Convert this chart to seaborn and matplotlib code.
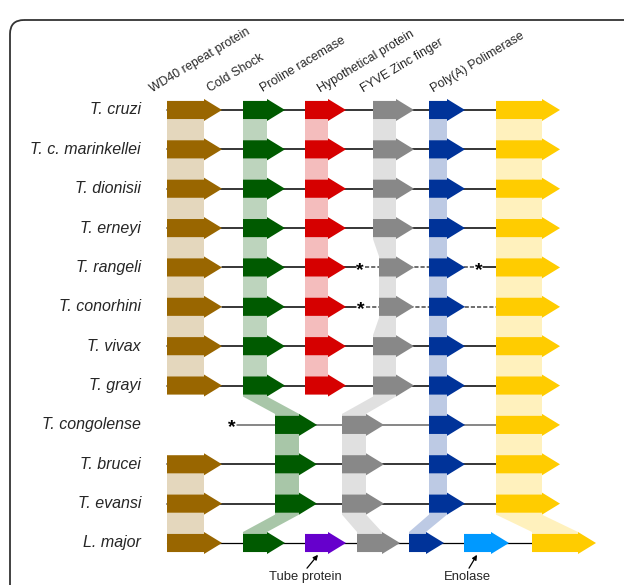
import matplotlib.pyplot as plt
from matplotlib.patches import Polygon, FancyBboxPatch
import seaborn as sns

sns.set_style("white")
plt.rcParams["font.family"] = ["Liberation Sans", "DejaVu Sans"]

OUTPUT = "out.png"

SPECIES = ["T. cruzi", "T. c. marinkellei", "T. dionisii", "T. erneyi", "T. rangeli",
           "T. conorhini", "T. vivax", "T. grayi", "T. congolense", "T. brucei",
           "T. evansi", "L. major"]
GENES = ["WD40 repeat protein", "Cold Shock", "Proline racemase",
         "Hypothetical protein", "FYVE Zinc finger", "Poly(A) Polimerase"]
COLORS = ["#996600", "#005A00", "#D60000", "#888888", "#003399", "#FFCC00"]

# gene start / end along the locus for every species (None = gene absent)
WD40_START = [167, 167, 167, 167, 167, 167, 167, 167, None, 167, 167, 167]
WD40_END = [222, 222, 222, 222, 222, 222, 222, 222, None, 222, 222, 222]
COLD_START = [243, 243, 243, 243, 243, 243, 243, 243, 275, 275, 275, 243]
COLD_END = [285, 285, 285, 285, 285, 285, 285, 285, 317, 317, 317, 285]
PRO_START = [305, 305, 305, 305, 305, 305, 305, 305, None, None, None, None]
PRO_END = [346, 346, 346, 346, 346, 346, 346, 346, None, None, None, None]
HYP_START = [373, 373, 373, 373, 379, 379, 373, 373, 342, 342, 342, 357]
HYP_END = [414, 414, 414, 414, 414, 414, 414, 414, 384, 384, 384, 400]
FYVE_START = [429, 429, 429, 429, 429, 429, 429, 429, 429, 429, 429, 409]
FYVE_END = [465, 465, 465, 465, 465, 465, 465, 465, 465, 465, 465, 444]
POLYA_START = [496, 496, 496, 496, 496, 496, 496, 496, 496, 496, 496, 532]
POLYA_END = [560, 560, 560, 560, 560, 560, 560, 560, 560, 560, 560, 596]

STARTS = [WD40_START, COLD_START, PRO_START, HYP_START, FYVE_START, POLYA_START]
ENDS = [WD40_END, COLD_END, PRO_END, HYP_END, FYVE_END, POLYA_END]

# extra genes found only in L. major
EXTRA_NAMES = ["Tube protein", "Enolase"]
EXTRA_START = [305, 464]
EXTRA_END = [346, 509]
EXTRA_COLORS = ["#6600CC", "#0099FF"]

# special backbone lines: (species, x0, x1, style)
SPECIAL_LINES = [
    ("T. rangeli", 222, 356, "solid"), ("T. rangeli", 365, 475, "dashed"),
    ("T. rangeli", 483, 496, "solid"),
    ("T. conorhini", 222, 356, "solid"), ("T. conorhini", 366, 496, "dashed"),
    ("T. congolense", 237, 496, "grey"),
]
STARS = [("T. rangeli", 360), ("T. rangeli", 479), ("T. conorhini", 361),
         ("T. congolense", 232)]

HEADER_X = [152, 210, 263, 320, 363, 433]

HEAD = 18
BODY_H = 0.23
HEAD_H = 0.28


def arrow(ax, s, e, y, color, z=3):
    pts = [(s, y - BODY_H), (e - HEAD, y - BODY_H), (e - HEAD, y - HEAD_H), (e, y),
           (e - HEAD, y + HEAD_H), (e - HEAD, y + BODY_H), (s, y + BODY_H)]
    ax.add_patch(Polygon(pts, closed=True, fc=color, ec="none", zorder=z))


def main():
    fig = plt.figure(figsize=(6.24, 5.85), dpi=100)

    # frame in pixel units
    frame = fig.add_axes([0, 0, 1, 1])
    frame.set_xlim(0, 624)
    frame.set_ylim(585, 0)
    frame.axis("off")
    frame.add_patch(FancyBboxPatch((10, 20), 660, 620,
                                   boxstyle="round,pad=0,rounding_size=14",
                                   fill=False, ec="#333333", lw=1.3))

    ax = fig.add_axes([0, 0, 1, 1])
    ax.patch.set_alpha(0)
    ax.set_xlim(0, 624)
    ax.set_ylim(12.067, -2.794)
    ax.axis("off")

    n = len(SPECIES)

    # homology bands
    for g in range(len(GENES)):
        st, en, col = STARTS[g], ENDS[g], COLORS[g]
        for i in range(n - 1):
            if st[i] is None or st[i + 1] is None:
                continue
            b0 = en[i] - HEAD
            b1 = en[i + 1] - HEAD
            pts = [(st[i], i), (st[i], i + HEAD_H), (st[i + 1], i + 1 - HEAD_H),
                   (st[i + 1], i + 1), (b1, i + 1), (b1, i + 1 - HEAD_H),
                   (b0, i + HEAD_H), (b0, i)]
            alpha = 0.34 if (g == 1 and i >= 7) else 0.26
            ax.add_patch(Polygon(pts, closed=True, fc=col, ec="none",
                                 alpha=alpha, zorder=1))

    # backbone lines
    special = {s for s, *_ in SPECIAL_LINES}
    for i, sp in enumerate(SPECIES):
        if sp in special:
            continue
        xs = [s[i] for s in STARTS if s[i] is not None]
        x1 = max(xs)
        if sp == "L. major":
            x1 = max(x1, max(EXTRA_START))
        ax.plot([min(xs), x1], [i, i], color="black", lw=1.1 if sp != "L. major" else 0.9,
                zorder=2)
    for sp, x0, x1, style in SPECIAL_LINES:
        i = SPECIES.index(sp)
        if style == "dashed":
            ax.plot([x0, x1], [i, i], color="#555555", lw=1.2, ls=(0, (2.5, 1.2)), zorder=2)
        elif style == "grey":
            ax.plot([x0, x1], [i, i], color="#666666", lw=1.1, zorder=2)
        else:
            ax.plot([x0, x1], [i, i], color="black", lw=1.1, zorder=2)

    for sp, x in STARS:
        ax.text(x, SPECIES.index(sp) + 0.07, "*", ha="center", va="center",
                fontsize=14, fontweight="bold", color="black", zorder=4)

    # gene arrows
    for g in range(len(GENES)):
        for i in range(n):
            if STARTS[g][i] is not None:
                arrow(ax, STARTS[g][i], ENDS[g][i], i, COLORS[g])
    lm = SPECIES.index("L. major")
    for s, e, c in zip(EXTRA_START, EXTRA_END, EXTRA_COLORS):
        arrow(ax, s, e, lm, c)

    # species labels
    for i, sp in enumerate(SPECIES):
        ax.text(141, i, sp, ha="right", va="center", fontsize=11.5, style="italic")

    # gene headers
    for x, name in zip(HEADER_X, GENES):
        ax.text(x, -0.45, name, rotation=31, rotation_mode="anchor", ha="left",
                va="baseline", fontsize=8.9)

    # L. major extra gene annotations
    tails = [(307, 11.72), (469, 11.72)]
    for (tx, ty), s, e, name in zip(tails, EXTRA_START, EXTRA_END, EXTRA_NAMES):
        ax.annotate("", xy=(s + 13, lm + 0.3), xytext=(tx, ty - 0.08),
                    arrowprops=dict(arrowstyle="-|>", color="black", lw=0.9,
                                    mutation_scale=7, shrinkA=0, shrinkB=0))
        ax.text(tx - 2, ty, name, ha="center", va="top", fontsize=9.4)

    plt.savefig(OUTPUT, dpi=100, facecolor="white")
    plt.close()


if __name__ == "__main__":
    main()
